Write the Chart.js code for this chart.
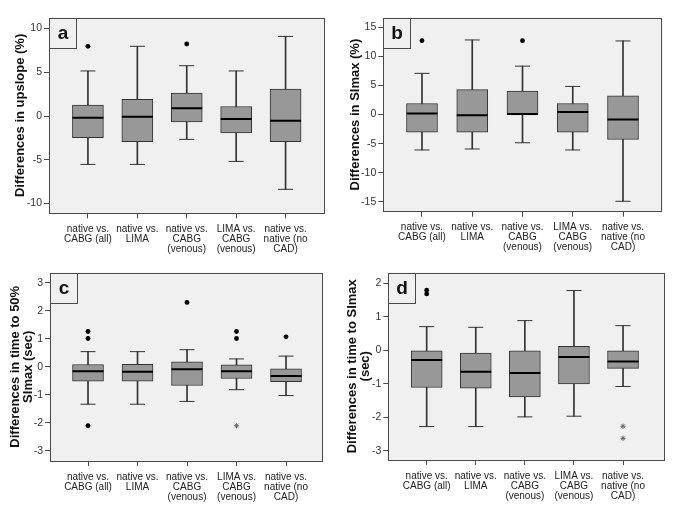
<!DOCTYPE html>
<html><head><meta charset="utf-8">
<script src="https://cdn.jsdelivr.net/npm/chart.js@4/dist/chart.umd.min.js"></script>
<style>
html,body{margin:0;padding:0;background:#fff;}
#wrap{position:relative;width:685px;height:515px;overflow:hidden;}
canvas{position:absolute;}
</style></head><body>
<div id="wrap">
<canvas id="ca" width="342" height="255" style="left:0;top:0"></canvas>
<canvas id="cb" width="343" height="255" style="left:342px;top:0"></canvas>
<canvas id="cc" width="342" height="260" style="left:0;top:255px"></canvas>
<canvas id="cd" width="343" height="260" style="left:342px;top:255px"></canvas>
</div>
<script>
// ---- data ----
const categories = [
  ["native vs.", "CABG (all)"],
  ["native vs.", "LIMA"],
  ["native vs.", "CABG", "(venous)"],
  ["LIMA vs.", "CABG", "(venous)"],
  ["native vs.", "native (no", "CAD)"]
];

// panel a: Differences in upslope (%)
const aTicks = [-10, -5, 0, 5, 10];
const aMin = [-5.53, -5.53, -2.67, -5.19, -8.38];
const aQ1  = [-2.48, -2.93, -0.68, -1.92, -2.93];
const aMed = [-0.19, -0.08, 0.90, -0.34, -0.53];
const aQ3  = [1.24, 1.92, 2.63, 1.09, 3.08];
const aMax = [5.15, 7.97, 5.75, 5.15, 9.10];
const aOutCat = [1, 3];
const aOutVal = [7.97, 8.23];
const aStarCat = [];
const aStarVal = [];

// panel b: Differences in SImax (%)
const bTicks = [-15, -10, -5, 0, 5, 10, 15];
const bMin = [-6.08, -5.91, -4.84, -6.08, -14.9];
const bQ1  = [-3.04, -3.04, -0.05, -3.04, -4.28];
const bMed = [0.17, -0.11, 0.10, 0.45, -0.84];
const bQ3  = [1.91, 4.28, 4.05, 1.91, 3.21];
const bMax = [7.09, 12.83, 8.33, 4.84, 12.66];
const bOutCat = [1, 3];
const bOutVal = [12.7, 12.7];
const bStarCat = [];
const bStarVal = [];

// panel c: Differences in time to 50% SImax (sec)
const cTicks = [-3, -2, -1, 0, 1, 2, 3];
const cMin = [-1.34, -1.34, -1.24, -0.82, -1.03];
const cQ1  = [-0.52, -0.52, -0.67, -0.42, -0.53];
const cMed = [-0.16, -0.18, -0.09, -0.16, -0.33];
const cQ3  = [0.08, 0.09, 0.18, 0.07, -0.07];
const cMax = [0.54, 0.54, 0.61, 0.28, 0.38];
const cOutCat = [1, 1, 1, 3, 4, 4, 5];
const cOutVal = [1.26, 1.01, -2.11, 2.30, 1.26, 1.01, 1.07];
const cStarCat = [4];
const cStarVal = [-2.11];

// panel d: Differences in time to SImax (sec)
const dTicks = [-3, -2, -1, 0, 1, 2];
const dMin = [-2.28, -2.28, -1.99, -1.97, -1.08];
const dQ1  = [-1.11, -1.13, -1.39, -1.00, -0.54];
const dMed = [-0.29, -0.64, -0.68, -0.20, -0.33];
const dQ3  = [0.00, -0.08, 0.00, 0.12, 0.00];
const dMax = [0.71, 0.69, 0.89, 1.79, 0.74];
const dOutCat = [1, 1];
const dOutVal = [1.80, 1.69];
const dStarCat = [5, 5];
const dStarVal = [-2.27, -2.63];

// ---- rendering ----
Chart.defaults.font.family = "'Liberation Sans', Arial, Helvetica, sans-serif";
Chart.defaults.color = '#333';

const FRAME = '#4a4a4a';
const PLOTBG = '#f0f0f0';

const framePlugin = {
  id: 'frame',
  beforeDatasetsDraw(chart) {
    const {ctx, chartArea: a} = chart;
    ctx.save();
    ctx.fillStyle = PLOTBG;
    ctx.fillRect(a.left, a.top, a.right - a.left, a.bottom - a.top);
    ctx.restore();
  },
  afterDraw(chart, args, opts) {
    const {ctx, chartArea: a} = chart;
    ctx.save();
    ctx.strokeStyle = FRAME;
    ctx.lineWidth = 1;
    ctx.strokeRect(Math.round(a.left) + 0.5, Math.round(a.top) + 0.5,
                   Math.round(a.right - a.left) - 1, Math.round(a.bottom - a.top) - 1);
    // panel letter box
    const bx = Math.round(a.left) + 0.5, by = Math.round(a.top) + 0.5;
    ctx.fillStyle = PLOTBG;
    ctx.fillRect(bx, by, 27, 30);
    ctx.strokeRect(bx, by, 27, 30);
    ctx.fillStyle = '#111';
    ctx.font = "bold 19px 'Liberation Sans', Arial, sans-serif";
    ctx.textAlign = 'center';
    ctx.textBaseline = 'middle';
    ctx.fillText(opts.letter, bx + 13.5, by + 15);
    ctx.restore();
  }
};

function makePanel(id, letter, title, ticks, mins, q1s, meds, q3s, maxs,
                   outCat, outVal, starCat, starVal, geo) {
  const idx = mins.map((_, i) => i + 1);
  const datasets = [
    { type: 'bar', data: idx.map((x, i) => ({x, y: [mins[i], maxs[i]]})),
      barThickness: 1, backgroundColor: '#333', grouped: false, order: 6 },
    { type: 'bar', data: idx.map((x, i) => ({x, y: [q1s[i], q3s[i]]})),
      barThickness: 31, backgroundColor: '#989898', borderColor: '#333',
      borderWidth: 1, borderSkipped: false, grouped: false, order: 5 },
    { type: 'scatter', data: idx.flatMap((x, i) => [{x, y: mins[i]}, {x, y: maxs[i]}]),
      pointStyle: 'line', pointRadius: 7.5, borderColor: '#333', borderWidth: 1, order: 4 },
    { type: 'scatter', data: idx.map((x, i) => ({x, y: meds[i]})),
      pointStyle: 'line', pointRadius: 15.5, borderColor: '#000', borderWidth: 2, order: 3 },
    { type: 'scatter', data: outCat.map((x, i) => ({x, y: outVal[i]})),
      pointStyle: 'circle', pointRadius: 2.4, backgroundColor: '#000', borderWidth: 0, order: 2 },
    { type: 'scatter', data: starCat.map((x, i) => ({x, y: starVal[i]})),
      pointStyle: 'star', pointRadius: 2.6, borderColor: '#666', borderWidth: 1, order: 1 }
  ];
  new Chart(document.getElementById(id), {
    type: 'bar',
    data: { datasets },
    plugins: [framePlugin],
    options: {
      responsive: false,
      animation: false,
      events: [],
      layout: { padding: { left: 0, top: geo.padTop, right: geo.padRight, bottom: 0 } },
      plugins: { legend: { display: false }, tooltip: { enabled: false }, frame: { letter } },
      scales: {
        x: {
          type: 'linear', offset: false, min: geo.xMin, max: geo.xMax,
          grid: { display: true, offset: false, drawOnChartArea: false, drawTicks: true,
                  tickLength: 5, color: FRAME, lineWidth: 1 },
          border: { display: false },
          afterBuildTicks: s => { s.ticks = idx.map(v => ({value: v})); },
          afterFit: s => { s.height = geo.xHeight; },
          ticks: { autoSkip: false, maxRotation: 0, minRotation: 0, padding: 6,
                   color: '#222', font: { size: 10, lineHeight: 1.0 },
                   callback: v => categories[Math.round(v) - 1] }
        },
        y: {
          type: 'linear', min: geo.yMin, max: geo.yMax,
          grid: { display: true, drawOnChartArea: false, drawTicks: true,
                  tickLength: 5, color: FRAME, lineWidth: 1 },
          border: { display: false },
          afterBuildTicks: s => { s.ticks = ticks.map(v => ({value: v})); },
          afterFit: s => { s.width = geo.yWidth; },
          ticks: { padding: 2, color: '#333', font: { size: 10.5 }, callback: v => String(v) },
          title: { display: true, text: title, color: '#111',
                   font: { size: 13, weight: 'bold', lineHeight: 1.0 },
                   padding: { top: geo.titlePad, bottom: 0 } }
        }
      }
    }
  });
}

makePanel('ca', 'a', 'Differences in upslope (%)', aTicks, aMin, aQ1, aMed, aQ3, aMax,
  aOutCat, aOutVal, aStarCat, aStarVal,
  { yWidth: 49, padTop: 12.7, padRight: 10, xHeight: 41.7, titlePad: 13.5,
    xMin: 0.212, xMax: 5.788, yMin: -11.12, yMax: 11.26 });

makePanel('cb', 'b', 'Differences in SImax (%)', bTicks, bMin, bQ1, bMed, bQ3, bMax,
  bOutCat, bOutVal, bStarCat, bStarVal,
  { yWidth: 41.3, padTop: 14, padRight: 22.3, xHeight: 43.3, titlePad: 6.5,
    xMin: 0.23, xMax: 5.79, yMin: -16.69, yMax: 16.69 });

makePanel('cc', 'c', ['Differences in time to 50%', 'SImax (sec)'], cTicks, cMin, cQ1, cMed, cQ3, cMax,
  cOutCat, cOutVal, cStarCat, cStarVal,
  { yWidth: 50, padTop: 6, padRight: 19, xHeight: 54, titlePad: 8.5,
    xMin: 0.232, xMax: 5.747, yMin: -3.37, yMax: 3.37 });

makePanel('cd', 'd', ['Differences in time to SImax', '(sec)'], dTicks, dMin, dQ1, dMed, dQ3, dMax,
  dOutCat, dOutVal, dStarCat, dStarVal,
  { yWidth: 46.3, padTop: 6, padRight: 20, xHeight: 55, titlePad: 4.2,
    xMin: 0.218, xMax: 5.855, yMin: -3.28, yMax: 2.33 });
</script>
</body></html>
